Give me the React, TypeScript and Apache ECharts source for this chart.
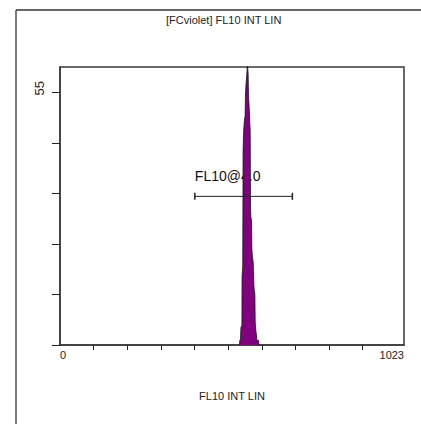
import React, { useEffect, useRef } from "react";
import * as echarts from "echarts";

const TITLE = "[FCviolet] FL10 INT LIN";
const X_NAME = "FL10 INT LIN";
const X_MIN = 0;
const X_MAX = 1023;
const Y_MAX = 60.6;
const Y_TICKS = [0, 11, 22, 33, 44, 55];
const Y_LABELS = [55];
const X_TICKS = [100, 200, 300, 400, 500, 600, 700, 800, 900];
const X_LABELS = [0, 1023];

const channels = [
  534, 535, 536, 537, 538, 539, 540, 541, 542, 543, 544, 545, 546, 547, 548, 549, 550, 551,
  552, 553, 554, 555, 556, 557, 558, 559, 560, 561, 562, 563, 564, 565, 566, 567, 568, 569,
  570, 571, 572, 573, 574, 575, 576, 577, 578, 579, 580, 581, 582, 583, 584, 585, 586, 587,
  588, 589, 590, 591, 592, 593, 594, 595,
];
const counts = [
  0, 1, 1, 1, 3, 4, 4, 4, 15, 16, 17, 42, 45, 47, 48, 49, 49, 50,
  54, 56, 57, 58, 59, 60, 62, 60, 59, 54, 53, 52, 52, 48, 47, 30, 28, 28,
  27, 21, 20, 19, 19, 18, 18, 13, 12, 12, 11, 5, 4, 3, 3, 2, 1, 1,
  1, 1, 1, 1, 0, 0, 0, 0,
];

const GATE_NAME = "FL10@4.0";
const gateX = [401, 691];
const gateY = 32.4;

const FONT = "'Liberation Sans', Arial, sans-serif";

export default function App() {
  const ref = useRef<HTMLDivElement>(null);
  useEffect(() => {
    if (!ref.current) return;
    const chart = echarts.init(ref.current, undefined, { renderer: "svg" });
    const hist = channels.map((c, i) => [c, counts[i]]);
    chart.setOption({
      animation: false,
      backgroundColor: "#fff",
      textStyle: { fontFamily: FONT },
      title: {
        text: TITLE,
        left: 166,
        top: 14,
        padding: 0,
        textStyle: { fontSize: 11, fontWeight: "normal", color: "#222", fontFamily: FONT },
      },
      graphic: [
        { type: "line", shape: { x1: 16, y1: 424, x2: 16, y2: 10 }, style: { stroke: "#555", lineWidth: 1.5 } },
        { type: "line", shape: { x1: 16, y1: 10, x2: 421, y2: 10 }, style: { stroke: "#333", lineWidth: 1.5 } },
      ],
      grid: {
        left: 60,
        top: 67,
        right: 17,
        bottom: 79,
        show: true,
        borderColor: "#3a3a3a",
        borderWidth: 1.5,
        backgroundColor: "transparent",
      },
      xAxis: {
        type: "value",
        min: X_MIN,
        max: X_MAX,
        name: X_NAME,
        nameLocation: "middle",
        nameGap: 45,
        nameTextStyle: { fontSize: 11, color: "#222", fontFamily: FONT },
        axisLine: { show: true, lineStyle: { color: "#3a3a3a", width: 1.5 } },
        axisTick: { show: true, customValues: X_TICKS, length: 5, lineStyle: { color: "#222", width: 1 } },
        axisLabel: {
          show: true,
          customValues: X_LABELS,
          margin: 4,
          fontSize: 11,
          color: "#222",
          fontFamily: FONT,
          alignMinLabel: "left",
          alignMaxLabel: "right",
          formatter: (v: number) => String(v),
        },
        splitLine: { show: false },
      },
      yAxis: {
        type: "value",
        min: 0,
        max: Y_MAX,
        axisLine: { show: true, lineStyle: { color: "#3a3a3a", width: 1.5 } },
        axisTick: { show: true, customValues: Y_TICKS, length: 8, lineStyle: { color: "#222", width: 1 } },
        axisLabel: {
          show: true,
          customValues: Y_LABELS,
          rotate: 90,
          margin: 14,
          fontSize: 13,
          color: "#222",
          fontFamily: FONT,
          padding: [0, 0, 0, 9],
          formatter: (v: number) => String(v),
        },
        splitLine: { show: false },
      },
      series: [
        {
          type: "scatter",
          data: [[gateX[0], gateY]],
          symbolSize: 0,
          z: 0,
          silent: true,
          itemStyle: { opacity: 1 },
          label: {
            show: true,
            formatter: GATE_NAME,
            position: [0, -20],
            align: "left",
            verticalAlign: "middle",
            fontSize: 14,
            color: "#111",
            opacity: 1,
            fontFamily: FONT,
          },
          labelLayout: { hideOverlap: false },
        },
        {
          type: "line",
          data: hist,
          step: "middle",
          symbol: "none",
          lineStyle: { color: "#111", width: 0.8 },
          areaStyle: { color: "#800080", opacity: 1 },
          clip: true,
          z: 2,
        },
        {
          type: "line",
          data: gateX.map((x) => [x, gateY]),
          symbol: "rect",
          symbolSize: [1.5, 7],
          itemStyle: { color: "#222" },
          lineStyle: { color: "#222", width: 1 },
          z: 3,
        },
      ],
    });
    return () => chart.dispose();
  }, []);
  return (
    <div
      ref={ref}
      style={{ position: "fixed", left: 0, top: 0, width: 421, height: 424 }}
    />
  );
}
